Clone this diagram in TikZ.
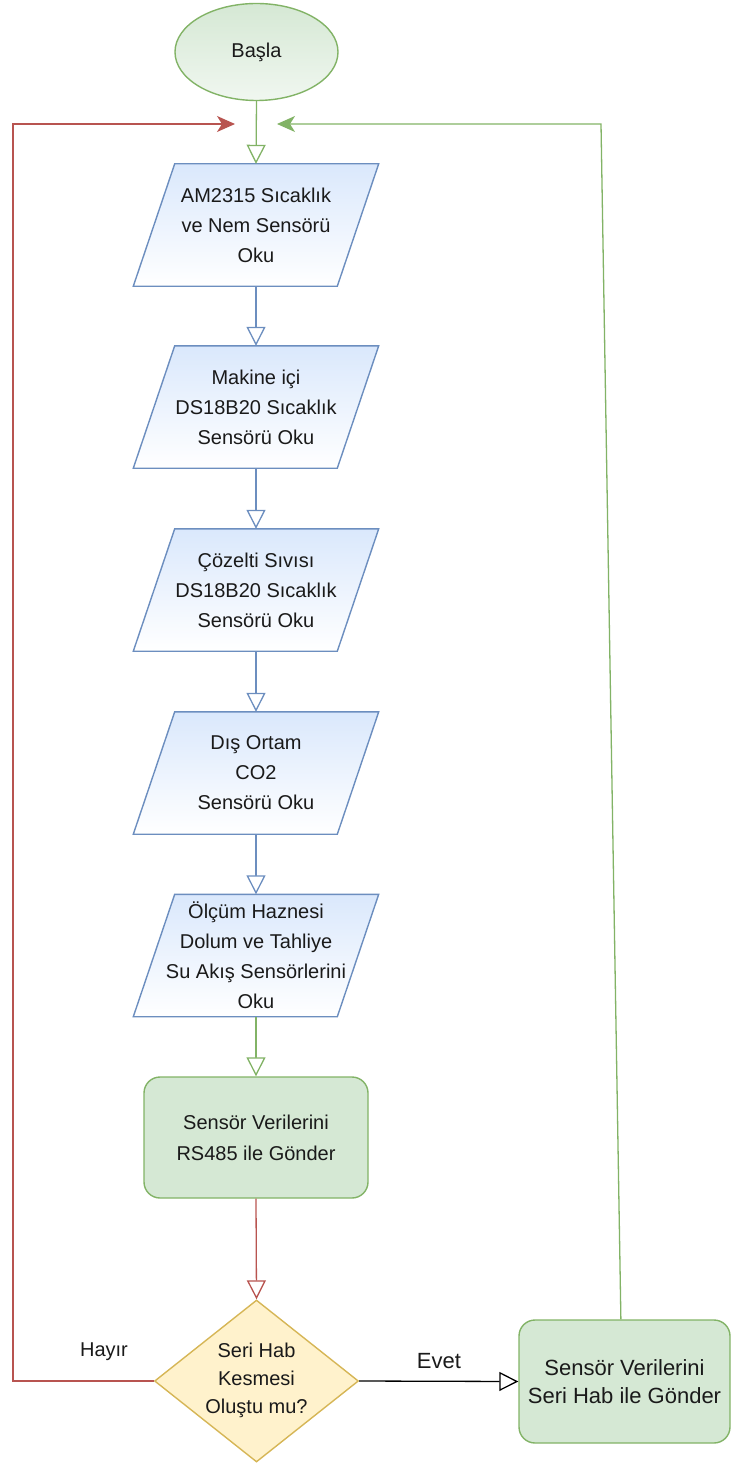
\documentclass[tikz,border=0pt]{standalone}
\usepackage{fontspec}
\setmainfont{Liberation Sans}
\usetikzlibrary{arrows.meta,shapes.geometric,backgrounds,calc}

\definecolor{bluestroke}{HTML}{6C8EBF}
\definecolor{bluefill}{HTML}{DAE8FC}
\definecolor{greenstroke}{HTML}{82B366}
\definecolor{greenfill}{HTML}{D5E8D4}
\definecolor{yellowstroke}{HTML}{D6B656}
\definecolor{yellowfill}{HTML}{FFF2CC}
\definecolor{redstroke}{HTML}{B85450}
\definecolor{textcol}{HTML}{1A1A1A}

\begin{document}
\begin{tikzpicture}[x=1pt,y=-1pt,
  base/.style={text=textcol, font=\fontsize{20}{30}\selectfont, align=center, inner sep=0pt},
  startnode/.style={base, ellipse, draw=greenstroke, line width=1.4pt,
    top color=greenfill, bottom color=greenfill!35, minimum width=163pt, minimum height=97pt},
  iobox/.style={base, rectangle, minimum width=245pt, minimum height=122pt},
  paraface/.style={draw=bluestroke, line width=1.4pt, top color=bluefill, bottom color=white},
  process/.style={base, rectangle, rounded corners=16pt, draw=greenstroke, line width=1.4pt, fill=greenfill},
  decision/.style={diamond, draw=yellowstroke, line width=1.4pt, fill=yellowfill, inner sep=0pt,
    minimum width=204pt, minimum height=162pt},
  lab/.style={text=textcol, inner sep=0pt},
  openhead/.style={-{Triangle[open, fill=white, length=19pt, width=19pt]}, line width=1.3pt},
  bluearrow/.style={openhead, draw=bluestroke},
  greenarrow/.style={openhead, draw=greenstroke},
  redarrow/.style={openhead, draw=redstroke},
  blackarrow/.style={openhead, draw=black},
  loopline/.style={line width=1.3pt, -{Stealth[length=18pt, width=16pt, inset=5pt]}}
]
\useasboundingbox (0,0) rectangle (731,1463);

% start
\node[startnode] (start) at (256.5,52) {Başla};

% input / output steps
\node[iobox] (p1) at (256,225) {AM2315 Sıcaklık\\ve Nem Sensörü\\Oku};
\node[iobox] (p2) at (256,407) {Makine içi\\DS18B20 Sıcaklık\\Sensörü Oku};
\node[iobox] (p3) at (256,590) {Çözelti Sıvısı\\DS18B20 Sıcaklık\\Sensörü Oku};
\node[iobox] (p4) at (256,773) {Dış Ortam\\CO2\\Sensörü Oku};
\node[iobox] (p5) at (256,955.5) {Ölçüm Haznesi\\Dolum ve Tahliye\\Su Akış Sensörlerini\\Oku};

\begin{scope}[on background layer]
  \foreach \p in {p1,p2,p3,p4,p5}{
    \shade[paraface] (\p.south west) -- ($(\p.south west)+(204,0)$)
      -- (\p.north east) -- ($(\p.north east)+(-204,0)$) -- cycle;
  }
\end{scope}

% processing
\node[process, minimum width=224pt, minimum height=121pt] (r1) at (256,1137.5)
  {Sensör Verilerini\\[1pt]RS485 ile Gönder};

% decision
\node[decision] (d1) at (256.5,1381) {};
\node[base, font=\fontsize{20}{28}\selectfont] (d1t) at (256.5,1380) {Seri Hab\\Kesmesi\\Oluştu mu?};

% serial send
\node[process, font=\fontsize{22}{28}\selectfont, minimum width=211pt, minimum height=123pt]
  (r2) at (624.5,1381.5) {Sensör Verilerini\\Seri Hab ile Gönder};

% labels
\node[lab, font=\fontsize{22}{26}\selectfont] (evet) at (439,1361) {Evet};
\node[lab, font=\fontsize{20}{24}\selectfont] (hayir) at (104,1352) {Hayır};

% main flow
\draw[greenarrow] (start.south) -- (p1.north);
\draw[bluearrow] (p1.south) -- (p2.north);
\draw[bluearrow] (p2.south) -- (p3.north);
\draw[bluearrow] (p3.south) -- (p4.north);
\draw[bluearrow] (p4.south) -- (p5.north);
\draw[greenarrow] (p5.south) -- (r1.north);
\draw[redarrow] (r1.south) -- (d1.north);
\draw[blackarrow] (d1.east) -- (r2.west);

% return loops
\coordinate (redcorner) at (13,124);
\coordinate (redtip) at (235,124);
\draw[loopline, draw=redstroke] (d1.west) -| (redcorner) -- (redtip);

\coordinate (greenstart) at ($(r2.north west)!0.483!(r2.north east)$);
\coordinate (greencorner) at (601,124);
\coordinate (greentip) at (277,124);
\draw[loopline, draw=greenstroke] (greenstart) -- (greencorner) -- (greentip);
\end{tikzpicture}
\end{document}
